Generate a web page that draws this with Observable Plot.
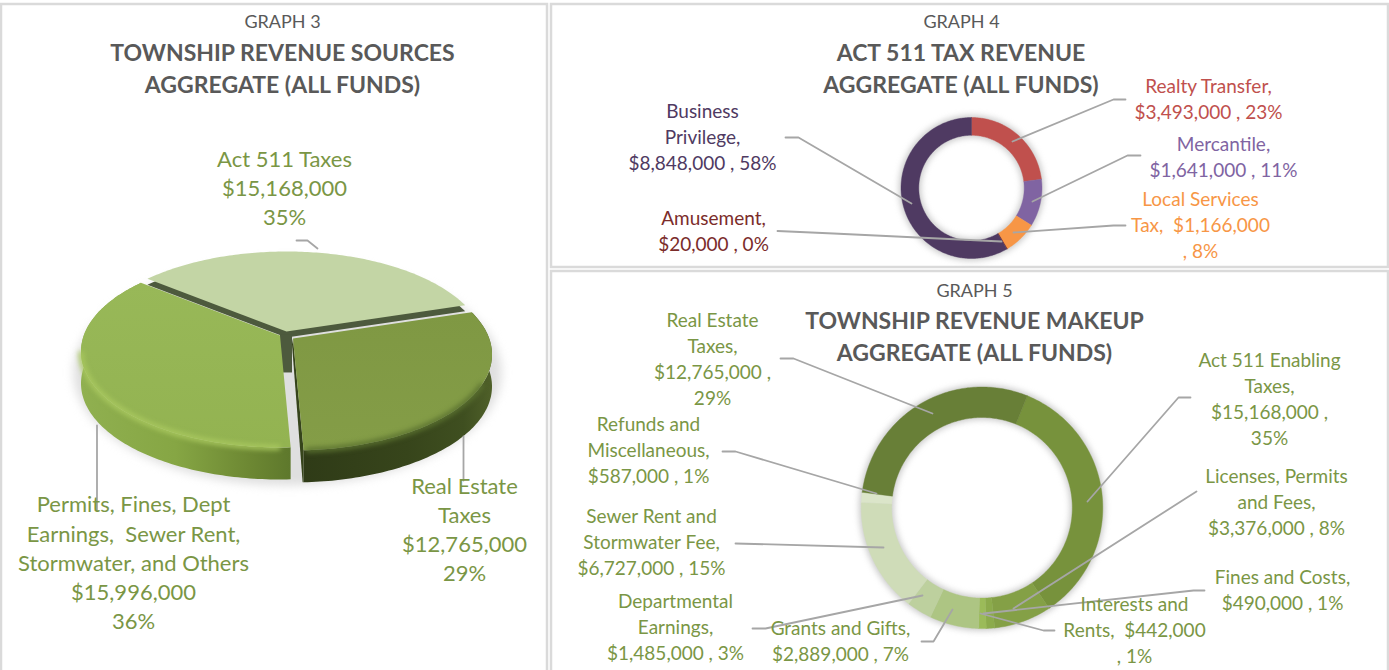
<!DOCTYPE html>
<html><head><meta charset="utf-8">
<script src="https://cdn.jsdelivr.net/npm/d3@7"></script>
<script src="https://cdn.jsdelivr.net/npm/@observablehq/plot@0.6"></script>
<style>html,body{margin:0;padding:0;background:#fff;overflow:hidden}svg{display:block}</style>
</head><body><div id="chart"></div>
<script>
// ---- Data ----
const g3Categories = ["Act 511 Taxes","Real Estate Taxes","Permits, Fines, Dept Earnings, Sewer Rent, Stormwater, and Others"];
const g3Values = [15168000,12765000,15996000];
const g4Categories = ["Realty Transfer","Mercantile","Local Services Tax","Amusement","Business Privilege"];
const g4Values = [3493000,1641000,1166000,20000,8848000];
const g4Colors = ["#c0504d","#8064a2","#f79646","#772c2a","#4f3a62"];
const g5Categories = ["Act 511 Enabling Taxes","Licenses, Permits and Fees","Fines and Costs","Interests and Rents","Grants and Gifts","Departmental Earnings","Sewer Rent and Stormwater Fee","Refunds and Miscellaneous","Real Estate Taxes"];
const g5Values = [15168000,3376000,490000,442000,2889000,1485000,6727000,587000,12765000];
const g5Colors = ["#77923c","#84a046","#8cab4c","#9bbb59","#adc583","#bdd09e","#cfdcb8","#dbe5c9","#687f37"];

const titleColor = "#595959", labelGreen = "#7a9645", leaderColor = "#a6a6a6", panelColor = "#dadada";

const panels = [
  {x1:1,x2:547,y1:4,y2:672},
  {x1:551,x2:1388,y1:4,y2:267},
  {x1:551,x2:1388,y1:271,y2:672}
];
const graphTitles = [
  {x:282,y:21,text:"GRAPH 3"},{x:961,y:21,text:"GRAPH 4"},{x:974,y:290,text:"GRAPH 5"}
];
const boldTitles = [
  {x:282,y:66,text:"TOWNSHIP REVENUE SOURCES\nAGGREGATE (ALL FUNDS)"},
  {x:960.5,y:66,text:"ACT 511 TAX REVENUE\nAGGREGATE (ALL FUNDS)"},
  {x:974,y:334,text:"TOWNSHIP REVENUE MAKEUP\nAGGREGATE (ALL FUNDS)"}
];
const g3Labels = [
  {x:284,y:186,text:"Act 511 Taxes\n$15,168,000\n35%"},
  {x:464,y:527.5,text:"Real Estate\nTaxes\n$12,765,000\n29%"},
  {x:133,y:561,text:"Permits, Fines, Dept\nEarnings,\u00a0 Sewer Rent,\nStormwater, and Others\n$15,996,000\n36%"}
];
const g4Labels = [
  {x:702,y:135,text:"Business\nPrivilege,\n$8,848,000 , 58%",c:"#4f3a62"},
  {x:713,y:229,text:"Amusement,\n$20,000 , 0%",c:"#7b2c2a"},
  {x:1208,y:97.5,text:"Realty Transfer,\n$3,493,000 , 23%",c:"#c0504d"},
  {x:1223,y:155,text:"Mercantile,\n$1,641,000 , 11%",c:"#8064a2"},
  {x:1200,y:223,text:"Local Services\nTax,\u00a0 $1,166,000\n, 8%",c:"#f79646"}
];
const g5Labels = [
  {x:712,y:357.5,text:"Real Estate\nTaxes,\n$12,765,000 ,\n29%"},
  {x:648,y:448,text:"Refunds and\nMiscellaneous,\n$587,000 , 1%"},
  {x:651,y:540,text:"Sewer Rent and\nStormwater Fee,\n$6,727,000 , 15%"},
  {x:675,y:625,text:"Departmental\nEarnings,\n$1,485,000 , 3%"},
  {x:840,y:639,text:"Grants and Gifts,\n$2,889,000 , 7%"},
  {x:1134,y:628,text:"Interests and\nRents,\u00a0 $442,000\n, 1%"},
  {x:1282,y:588.5,text:"Fines and Costs,\n$490,000 , 1%"},
  {x:1276,y:500,text:"Licenses, Permits\nand Fees,\n$3,376,000 , 8%"},
  {x:1269,y:397,text:"Act 511 Enabling\nTaxes,\n$15,168,000 ,\n35%"}
];
const leaders = [
  [[96.5,425],[96.5,510]], [[463,436],[463,480]], [[296,240],[307,240],[317,248]],
  [[785,137],[798,137],[911,203]], [[777,230.5],[833,233],[1001,241]],
  [[1012,141],[1113,99],[1125,99]], [[1032,201],[1127,155],[1140,155]], [[1013,232],[1113,225],[1125,225]],
  [[780,358],[793,358],[932,413]], [[1087,501],[1178,397],[1190,397]], [[876,493],[735,451],[722,451]],
  [[883,547],[735,543]], [[922,595],[765,628],[752,628]], [[952,609],[933,641],[921,641]],
  [[980,613],[1043,630],[1054,630]], [[983,613],[1193,590],[1204,590]], [[1013,608],[1185,498],[1196,491]]
];

// ---- Geometry helpers (all driven by the value arrays) ----
const rad = Math.PI/180;
function slices(values, startDeg){
  return d3.pie().sort(null).startAngle(startDeg*rad).endAngle((startDeg+360)*rad)(values);
}
function ringPoly(cx,cy,R,r,a0,a1){
  const n = Math.max(2,Math.ceil((a1-a0)/rad)), pts=[];
  for(let i=0;i<=n;i++){const a=a0+(a1-a0)*i/n;pts.push({x:cx+R*Math.sin(a),y:cy-R*Math.cos(a)});}
  for(let i=n;i>=0;i--){const a=a0+(a1-a0)*i/n;pts.push({x:cx+r*Math.sin(a),y:cy-r*Math.cos(a)});}
  pts.push(pts[0]);
  return pts;
}
const poly=(pts,fill,extra={})=>Plot.line(pts,{x:"x",y:"y",fill,stroke:"none",curve:"linear",...extra});
function donut(values,colors,cx,cy,R,r,start){
  const out=[poly(ringPoly(cx,cy,R+2,r-2,0,2*Math.PI),"#9a9a9a",{imageFilter:"blur(3px)",fillOpacity:0.55})];
  slices(values,start).forEach((s,i)=>out.push(poly(ringPoly(cx,cy,R,r,s.startAngle,s.endAngle),colors[i],{stroke:colors[i],strokeWidth:0.4})));
  return out;
}
// 3D pie: perspective projection of a unit circle onto an ellipse
const P={cx:285,cy:351,rx:199,ry:96,k:0.167,t:32};
function proj(u,v,dx=0,dy=0){
  const d=1-P.k*v;
  return {x:P.cx+dx+P.rx*Math.sqrt(1-P.k*P.k)*u/d, y:P.cy+dy+P.ry*(v-P.k)/d};
}
function arcPts(a0,a1,dx,dy){
  const n=Math.ceil((a1-a0)/rad),pts=[];
  for(let i=0;i<=n;i++){const a=a0+(a1-a0)*i/n;pts.push(proj(Math.sin(a),-Math.cos(a),dx,dy));}
  return pts;
}
const sector=(a0,a1,dx,dy)=>{const c=proj(0,0,dx,dy);return [c,...arcPts(a0,a1,dx,dy),c];};
function wall(a0,a1,dx,dy,t){
  const top=arcPts(a0,a1,dx,dy),bot=top.map(p=>({x:p.x,y:p.y+t})).reverse();
  return [...top,...bot,top[0]];
}
const [sAct,sRE,sPer]=slices(g3Values,-51.5);
const offs={act:[1,-4],re:[7.5,3],per:[-5.5,0]};

function pie3d(){
  const t=P.t,m=[];
  const ell=[];for(let i=0;i<=360;i+=3){ell.push({x:287+214*Math.sin(i*rad),y:372+113*Math.cos(i*rad)});}
  m.push(poly(ell,"#d4d4d4",{imageFilter:"blur(5px)",fillOpacity:0.75}));
  // side walls of the two front slices
  m.push(poly(wall(sPer.startAngle,sPer.endAngle,...offs.per,t),"url(#perWall)"));
  m.push(poly(wall(sRE.startAngle,sRE.endAngle,...offs.re,t),"url(#reWall)"));
  // cut face of the Real Estate slice
  const rc=proj(0,0,...offs.re), re=proj(Math.sin(sRE.endAngle),-Math.cos(sRE.endAngle),...offs.re);
  m.push(poly([rc,re,{x:re.x,y:re.y+t},{x:re.x-1,y:re.y+t},{x:rc.x-1,y:rc.y+6},rc],"#36441b"));
  // dark raised wall behind Act 511 slice
  m.push(poly(sector(sAct.startAngle,sAct.endAngle,offs.act[0],offs.act[1]+6),"#4d5a3d"));
  const ac=proj(0,0,...offs.act);
  m.push(poly([{x:ac.x-6.5,y:ac.y+3},{x:ac.x+5.5,y:ac.y+3},{x:ac.x+5.5,y:ac.y+41},{x:ac.x-6.5,y:ac.y+41},{x:ac.x-6.5,y:ac.y+3}],"#4d5a3d"));
  // top faces
  m.push(poly(sector(sAct.startAngle,sAct.endAngle,...offs.act),"#c3d5a5"));
  m.push(poly(sector(sPer.startAngle,sPer.endAngle,...offs.per),"url(#perTop)"));
  m.push(poly(sector(sRE.startAngle,sRE.endAngle,...offs.re),"url(#reTop)"));
  // soft bevels on the front rim
  m.push(Plot.line(arcPts(sPer.startAngle+3*rad,sPer.startAngle+82*rad,...offs.per),{x:"x",y:"y",stroke:"#a9c85f",strokeWidth:5,imageFilter:"blur(2.5px)",curve:"linear"}));
  m.push(Plot.line(arcPts(sRE.startAngle+45*rad,sRE.endAngle-1*rad,...offs.re),{x:"x",y:"y",stroke:"#5b7230",strokeWidth:5,imageFilter:"blur(2.5px)",curve:"linear"}));
  return m;
}
const defs=()=>{
  const d=d3.create("svg:defs");
  const grad=(id,stops,x2=1,y2=0)=>{
    const g=d.append("linearGradient").attr("id",id).attr("x1",0).attr("y1",0).attr("x2",x2).attr("y2",y2);
    stops.forEach(([o,c])=>g.append("stop").attr("offset",o).attr("stop-color",c));
  };
  grad("perWall",[[0,"#90b050"],[0.45,"#86a644"],[0.8,"#6d8833"],[1,"#5e782c"]]);
  grad("reWall",[[0,"#2f3b17"],[0.55,"#37451b"],[0.85,"#3f4f20"],[1,"#4f6029"]]);
  grad("perTop",[[0,"#98b858"],[1,"#93b351"]],0,1);
  grad("reTop",[[0,"#7f9843"],[1,"#849d47"]],0,1);
  return d.node();
};
const textMark=(data,size,lh,opts={})=>Plot.text(data,{x:"x",y:"y",text:"text",fontSize:size,lineHeight:lh,textAnchor:"middle",lineAnchor:"middle",...opts});

const chart=Plot.plot({
  width:1389,height:670,margin:0,
  x:{domain:[0,1389],range:[0,1389],axis:null},
  y:{domain:[0,670],range:[0,670],axis:null},
  color:{type:"identity"},
  style:{fontFamily:"Lato, sans-serif",background:"#fff"},
  marks:[
    defs,
    Plot.rect(panels,{x1:"x1",x2:"x2",y1:"y1",y2:"y2",stroke:panelColor,strokeWidth:2.5,fill:"none"}),
    ...pie3d(),
    ...donut(g4Values,g4Colors,971,187.5,70.5,52.7,0),
    ...donut(g5Values,g5Colors,981.5,507.3,120.8,90.3,22),
    ...leaders.map(l=>Plot.line(l,{x:d=>d[0],y:d=>d[1],stroke:leaderColor,strokeWidth:1.8,curve:"linear"})),
    textMark(graphTitles,18,1.2,{fill:titleColor}),
    textMark(boldTitles,23,32/23,{fill:titleColor,fontWeight:700}),
    textMark(g3Labels,22,29.2/22,{fill:labelGreen}),
    textMark(g4Labels,19,25.8/19,{fill:"c"}),
    textMark(g5Labels,19,26/19,{fill:labelGreen})
  ]
});
document.getElementById("chart").append(chart);
</script></body></html>
